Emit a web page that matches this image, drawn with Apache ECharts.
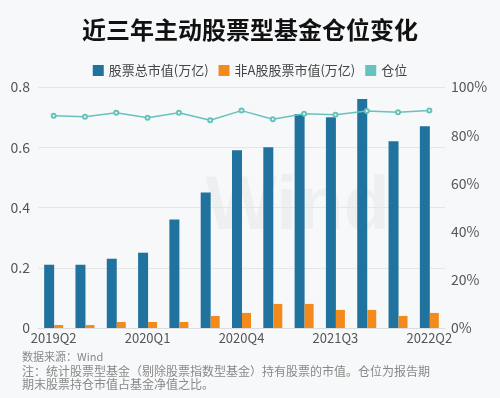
<!DOCTYPE html>
<html>
<head>
<meta charset="utf-8">
<script src="https://cdn.jsdelivr.net/npm/echarts@6/dist/echarts.min.js"></script>
<style>
  html, body { margin: 0; padding: 0; background: #f7f8fa; }
  #chart { width: 500px; height: 398px; }
</style>
</head>
<body>
<div id="chart"></div>
<script>
// 季度
var quarters = ["2019Q2", "2019Q3", "2019Q4", "2020Q1", "2020Q2", "2020Q3", "2020Q4",
  "2021Q1", "2021Q2", "2021Q3", "2021Q4", "2022Q1", "2022Q2"];
// 股票总市值(万亿)
var totalValue = [0.21, 0.21, 0.23, 0.25, 0.36, 0.45, 0.59, 0.60, 0.71, 0.70, 0.76, 0.62, 0.67];
// 非A股股票市值(万亿)
var nonAValue = [0.01, 0.01, 0.02, 0.02, 0.02, 0.04, 0.05, 0.08, 0.08, 0.06, 0.06, 0.04, 0.05];
// 仓位(%)
var position = [88.1, 87.7, 89.3, 87.2, 89.3, 86.2, 90.2, 86.6, 88.9, 88.5, 90.0, 89.5, 90.3];

var names = ["股票总市值(万亿)", "非A股股票市值(万亿)", "仓位"];
var font = "'Noto Sans CJK SC', 'Noto Sans', sans-serif";

var myChart = echarts.init(document.getElementById("chart"));
var option = {
  backgroundColor: "#f7f8fa",
  textStyle: { fontFamily: font },
  title: {
    text: "近三年主动股票型基金仓位变化",
    left: "center",
    top: 13,
    textStyle: { fontSize: 24, fontWeight: "bold", color: "#111", fontFamily: font }
  },
  legend: {
    data: names,
    top: 59,
    left: "center",
    icon: "rect",
    itemWidth: 11,
    itemHeight: 11,
    itemGap: 10,
    textStyle: { fontSize: 13, color: "#444", fontFamily: font }
  },
  graphic: [
    {
      type: "text",
      left: 205,
      top: 170,
      z: -1,
      style: { text: "Wind", fontSize: 76, fontWeight: "bold", fill: "rgba(0,0,0,0.035)", fontFamily: "Liberation Sans" }
    },
    {
      type: "text",
      left: 22,
      top: 351,
      style: { text: "数据来源：Wind", fontSize: 11, fill: "#888", fontFamily: font }
    },
    {
      type: "text",
      left: 22,
      top: 365,
      style: {
        text: "注：统计股票型基金（剔除股票指数型基金）持有股票的市值。仓位为报告期\n期末股票持仓市值占基金净值之比。",
        fontSize: 12,
        lineHeight: 13,
        fill: "#888",
        fontFamily: font
      }
    }
  ],
  grid: { left: 38, right: 55, top: 87, bottom: 70 },
  xAxis: {
    type: "category",
    data: quarters,
    axisTick: { show: false },
    axisLine: { lineStyle: { color: "#ddd" } },
    axisLabel: { interval: 2, color: "#555", fontSize: 13, margin: 4 }
  },
  yAxis: [
    {
      type: "value",
      min: 0,
      max: 0.8,
      interval: 0.2,
      axisLine: { show: false },
      axisTick: { show: false },
      axisLabel: { color: "#555", fontSize: 14, margin: 8 },
      splitLine: { lineStyle: { color: "#e6e6e6" } }
    },
    {
      type: "value",
      min: 0,
      max: 100,
      interval: 20,
      axisLine: { show: false },
      axisTick: { show: false },
      axisLabel: { color: "#555", fontSize: 14, formatter: "{value}%", margin: 6 },
      splitLine: { show: false }
    }
  ],
  series: [
    {
      name: names[0],
      type: "bar",
      data: totalValue,
      barWidth: 10,
      barGap: "0%",
      itemStyle: { color: "#21739f" }
    },
    {
      name: names[1],
      type: "bar",
      data: nonAValue,
      barWidth: 9,
      itemStyle: { color: "#f28a1c" }
    },
    {
      name: names[2],
      type: "line",
      yAxisIndex: 1,
      data: position,
      symbol: "emptyCircle",
      symbolSize: 4,
      lineStyle: { color: "#66c2bc", width: 1.5 },
      itemStyle: { color: "#66c2bc" }
    }
  ]
};
myChart.setOption(option);
</script>
</body>
</html>
